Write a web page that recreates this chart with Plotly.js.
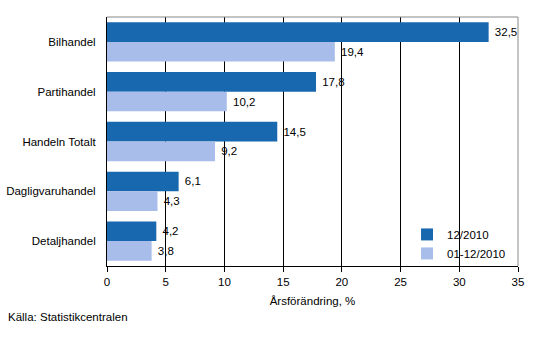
<!DOCTYPE html>
<html>
<head>
<meta charset="utf-8">
<script src="https://cdn.plot.ly/plotly-3.0.1.min.js"></script>
<style>html,body{margin:0;padding:0;background:#fff;}#chart{width:533px;height:359px;}</style>
</head>
<body>
<div id="chart"></div>
<script>
const categories = ["Bilhandel", "Partihandel", "Handeln Totalt", "Dagligvaruhandel", "Detaljhandel"];
const seriesNames = ["12/2010", "01-12/2010"];
const valuesMonth = [32.5, 17.8, 14.5, 6.1, 4.2];
const valuesYear = [19.4, 10.2, 9.2, 4.3, 3.8];
const xTicks = [0, 5, 10, 15, 20, 25, 30, 35];

const fmt = v => '\u00a0' + v.toFixed(1).replace('.', ',');
const font = {family: 'Liberation Sans, Arial, sans-serif', size: 11.5, color: '#000'};

const traces = [
  {type: 'bar', orientation: 'h', name: seriesNames[0], y: categories, x: valuesMonth,
   marker: {color: '#1868b0'}, text: valuesMonth.map(fmt), textposition: 'outside',
   textfont: font, cliponaxis: false, hoverinfo: 'none'},
  {type: 'bar', orientation: 'h', name: seriesNames[1], y: categories, x: valuesYear,
   marker: {color: '#a8bdea'}, text: valuesYear.map(fmt), textposition: 'outside',
   textfont: font, cliponaxis: false, hoverinfo: 'none'}
];

const layout = {
  width: 533, height: 359,
  margin: {l: 107, r: 15, t: 17, b: 93, autoexpand: false},
  paper_bgcolor: '#fff', plot_bgcolor: '#fff',
  font: font,
  barmode: 'group', bargap: 0.21, bargroupgap: 0,
  xaxis: {
    range: [0, 35], tickvals: xTicks, ticktext: xTicks.map(String),
    showgrid: true, gridcolor: '#000', gridwidth: 1,
    showline: true, linecolor: '#000', linewidth: 1,
    ticks: 'outside', ticklen: 5, tickcolor: '#000',
    zeroline: false, tickfont: font,
    title: {text: 'Årsförändring, %', font: font, standoff: 10}
  },
  yaxis: {
    autorange: 'reversed', showgrid: false, showline: true, linecolor: '#000', linewidth: 1,
    ticks: '', ticklabelstandoff: 8, tickfont: font, zeroline: false
  },
  legend: {
    x: 0.73, y: 0.185, xanchor: 'left', yanchor: 'top',
    bgcolor: 'rgba(0,0,0,0)', font: font, tracegroupgap: 0, itemwidth: 30
  },
  shapes: [
    {type: 'line', xref: 'paper', yref: 'paper', x0: 0, x1: 1, y0: 1, y1: 1, line: {color: '#888', width: 1}},
    {type: 'line', xref: 'paper', yref: 'paper', x0: 1, x1: 1, y0: 0, y1: 1, line: {color: '#888', width: 1}}
  ],
  annotations: [
    {text: 'Källa: Statistikcentralen', xref: 'paper', yref: 'paper', x: -0.245, y: -0.205,
     xanchor: 'left', yanchor: 'middle', showarrow: false, font: font}
  ]
};

Plotly.newPlot('chart', traces, layout, {displayModeBar: false, staticPlot: true});
</script>
</body>
</html>
